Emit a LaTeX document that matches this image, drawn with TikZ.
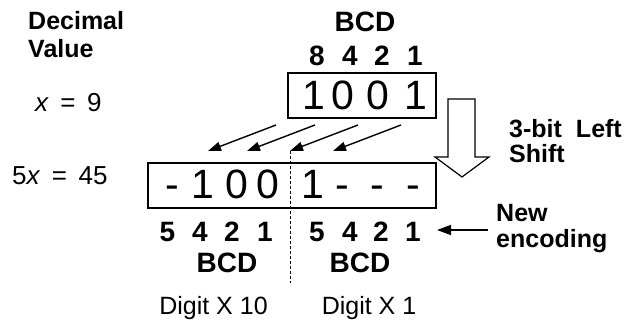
\documentclass[tikz,border=0pt]{standalone}
\usepackage{fontspec}
\setmainfont{Liberation Sans}
\usetikzlibrary{arrows.meta}
\tikzset{
  lblb/.style={font=\fontsize{25}{27}\selectfont\bfseries, inner sep=0pt, anchor=base west},
  lblr/.style={font=\fontsize{25}{27}\selectfont, inner sep=0pt, anchor=base},
  eqn/.style={font=\fontsize{26}{28}\selectfont, inner sep=0pt, anchor=base west},
  wt/.style={font=\fontsize{28}{30}\selectfont\bfseries, inner sep=0pt, anchor=base},
  dig/.style={font=\fontsize{41}{43}\selectfont, inner sep=0pt, anchor=base},
  regbox/.style={draw, line width=1.2pt, inner sep=0pt},
  shiftarrow/.style={line width=1.4pt, -{Triangle[length=13pt,width=9pt]}},
  ptrarrow/.style={line width=1.4pt, -{Triangle[length=14pt,width=10pt]}},
  divider/.style={line width=0.9pt, dash pattern=on 3pt off 2pt},
  hollow/.style={draw, fill=white, line width=1.2pt, line join=miter}
}
\newcommand{\eqsp}{\hspace{11.5pt}}
\begin{document}
\begin{tikzpicture}[x=1pt,y=-1pt]
\useasboundingbox (0,0) rectangle (627,323);

% boxes
\node[regbox, minimum width=148pt, minimum height=45pt] (topbox) at (362,95.5) {};
\node[regbox, minimum width=288pt, minimum height=45pt] (botbox) at (292,185.5) {};

% left labels
\node[lblb] (dec1) at (28,30) {Decimal};
\node[lblb] (dec2) at (28,58) {Value};
\node[eqn] (eq1) at (35,112) {\textit{x}\eqsp=\eqsp9};
\node[eqn] (eq2) at (12,185) {5\textit{x}\eqsp=\eqsp45};

% top BCD header
\node[wt] (bcdtop) at (365,32) {BCD};
\node[wt] (h8) at (317,66) {8};
\node[wt] (h4) at (350,66) {4};
\node[wt] (h2) at (382,66) {2};
\node[wt] (h1) at (415,66) {1};

% top digits
\node[dig] (t1) at (314,110) {1};
\node[dig] (t2) at (343,110) {0};
\node[dig] (t3) at (378,110) {0};
\node[dig] (t4) at (416,110) {1};

% bottom digits
\node[dig] (b1) at (172,199) {-};
\node[dig] (b2) at (203,199) {1};
\node[dig] (b3) at (237,199) {0};
\node[dig] (b4) at (268,199) {0};
\node[dig] (b5) at (313,199) {1};
\node[dig] (b6) at (342,199) {-};
\node[dig] (b7) at (377,199) {-};
\node[dig] (b8) at (413,199) {-};

% divider
\coordinate (dtop) at (290,151);
\coordinate (dbot) at (290,283);
\draw[divider] (dtop) -- (dbot);

% shift arrows
\coordinate (s1) at (276,125); \coordinate (e1) at (208,151);
\coordinate (s2) at (315,125); \coordinate (e2) at (247,151);
\coordinate (s3) at (358,125); \coordinate (e3) at (290,151);
\coordinate (s4) at (401,125); \coordinate (e4) at (333,151);
\draw[shiftarrow] (s1) -- (e1);
\draw[shiftarrow] (s2) -- (e2);
\draw[shiftarrow] (s3) -- (e3);
\draw[shiftarrow] (s4) -- (e4);

% bottom weights
\node[wt] (l5) at (167.5,242) {5};
\node[wt] (l4) at (200,242) {4};
\node[wt] (l2) at (232,242) {2};
\node[wt] (l1) at (265,242) {1};
\node[wt] (r5) at (317,242) {5};
\node[wt] (r4) at (350,242) {4};
\node[wt] (r2) at (381,242) {2};
\node[wt] (r1) at (413,242) {1};
\node[wt] (bcdl) at (227,273) {BCD};
\node[wt] (bcdr) at (360,273) {BCD};

\node[lblr] (d10) at (213.5,315) {Digit X 10};
\node[lblr] (d1) at (369,315) {Digit X 1};

% hollow arrow
\draw[hollow] (448,99) -- (475,99) -- (475,157) -- (489,157) -- (462,177) -- (435,157) -- (448,157) -- cycle;
\node[lblb] (shift1) at (509,138) {3-bit\hspace{14pt}Left};
\node[lblb] (shift2) at (509,163) {Shift};

% new encoding
\node[lblb] (new1) at (496,222) {New};
\node[lblb] (new2) at (496,248) {encoding};
\coordinate (ps) at (488,230);
\coordinate (pe) at (437,230);
\draw[ptrarrow] (ps) -- (pe);
\end{tikzpicture}
\end{document}
